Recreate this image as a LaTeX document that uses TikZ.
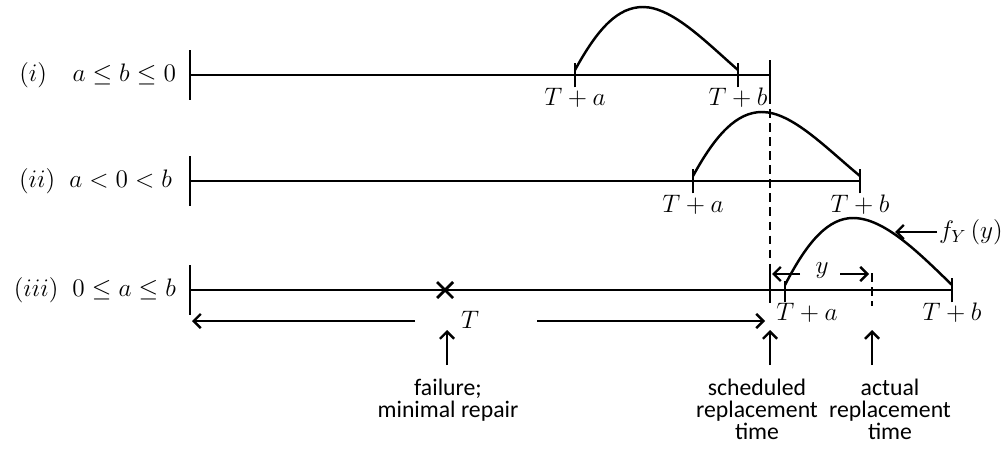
\documentclass[tikz,border=0pt]{standalone}
\usepackage{fontspec}
\newfontfamily\lblfont{Carlito}
\usetikzlibrary{arrows.meta}
\begin{document}
\begin{tikzpicture}[x=0.02cm, y=-0.02cm, line cap=butt, line join=round,
    axis/.style={line width=1.7pt},
    tick/.style={line width=1.5pt},
    dens/.style={line width=1.4pt},
    arr/.style={line width=1.4pt, -{Straight Barb[length=4pt,width=8pt]}},
    mlab/.style={inner sep=1pt, font=\fontsize{14.5}{17}\selectfont},
    txt/.style={inner sep=1pt, align=center, font=\lblfont\fontsize{13.5}{12.6}\selectfont}]
  \useasboundingbox (0,0) rectangle (1003,453);
  % case (i)
  \node[mlab, anchor=east] (c1) at (178,75) {$(i)\quad a\le b\le 0$};
  \coordinate (l1) at (190,75);
  \coordinate (e1) at (770,75);
  \coordinate (a1) at (575,75);
  \coordinate (b1) at (738,75);
  \draw[axis] (l1) -- (e1);
  \draw[tick] ([yshift=-14]l1) -- ([yshift=14]l1);
  \draw[tick] ([yshift=-7]a1) -- ([yshift=7]a1);
  \draw[tick] ([yshift=-7]b1) -- ([yshift=7]b1);
  \draw[dens] (a1) ++(0,-5) .. controls (598,28) and (618,7) .. (643,7)
    .. controls (672,7) and (706,42) .. (738,70);
  \node[mlab] (ta1) at (575,98) {$T+a$};
  \node[mlab] (tb1) at (738,98) {$T+b$};
  % case (ii)
  \node[mlab, anchor=east] (c2) at (174,181) {$(ii)\;\; a<0<b$};
  \coordinate (l2) at (190,181);
  \coordinate (e2) at (860,181);
  \coordinate (a2) at (693,181);
  \draw[axis] (l2) -- (e2);
  \draw[tick] ([yshift=-14]l2) -- ([yshift=14]l2);
  \draw[tick] ([yshift=-7]a2) -- ([yshift=7]a2);
  \draw[tick] ([yshift=-7]e2) -- ([yshift=7]e2);
  \draw[dens] (a2) ++(0,-5) .. controls (716,134) and (737,112) .. (762,112)
    .. controls (792,112) and (826,148) .. (860,176);
  \node[mlab] (ta2) at (693,205) {$T+a$};
  \node[mlab] (tb2) at (860,205) {$T+b$};
  % case (iii)
  \node[mlab, anchor=east] (c3) at (178,290) {$(iii)\;\; 0\le a\le b$};
  \coordinate (l3) at (190,290);
  \coordinate (e3) at (952,290);
  \coordinate (a3) at (785,290);
  \coordinate (act) at (872,290);
  \draw[axis] (l3) -- (e3);
  \draw[tick] ([yshift=-14]l3) -- ([yshift=14]l3);
  \draw[tick] ([yshift=-7]a3) -- ([yshift=5]a3);
  \draw[tick] ([yshift=-7]e3) -- ([yshift=7]e3);
  \draw[dens] (a3) ++(0,-5) .. controls (808,240) and (829,218) .. (853,218)
    .. controls (884,218) and (918,252) .. (952,285);
  \node[mlab] (ta3) at (807,313) {$T+a$};
  \node[mlab] (tb3) at (952,313) {$T+b$};
  \node (fail) at (445,290) {};
  \draw[line width=1.6pt] (437,282) -- (453,298) (437,298) -- (453,282);
  % scheduled replacement line
  \coordinate (s0) at (770,60);
  \coordinate (s1) at (770,95);
  \coordinate (s2) at (770,272);
  \coordinate (s3) at (770,303);
  \draw[tick] (s0) -- (s1);
  \draw[tick, dash pattern=on 5pt off 3pt] (s1) -- (s2);
  \draw[tick] (s2) -- (s3);
  \draw[tick, dash pattern=on 5pt off 3pt] (872,273) -- (872,306);
  % y and f_Y
  \node[mlab] (yl) at (822,271) {$y$};
  \draw[arr] (800,274) -- (772,274);
  \draw[arr] (840,274) -- (869,274);
  \node[mlab, anchor=west] (fy) at (937,232) {$f_Y\,(y)$};
  \draw[arr] (fy.west) -- (895,232);
  % T span
  \node[mlab] (tt) at (470,320) {$T$};
  \draw[arr] (415,321) -- (192,321);
  \draw[arr] (537,321) -- (765,321);
  % pointers
  \node[txt, anchor=north] (tf) at (448,377) {failure;\\minimal repair};
  \node[txt, anchor=north] (ts) at (757,377) {scheduled\\replacement\\time};
  \node[txt, anchor=north] (tr) at (890,377) {actual\\replacement\\time};
  \draw[arr] (447,365) -- (447,330);
  \draw[arr] (770,365) -- (770,330);
  \draw[arr] (872,365) -- (872,330);
\end{tikzpicture}
\end{document}
